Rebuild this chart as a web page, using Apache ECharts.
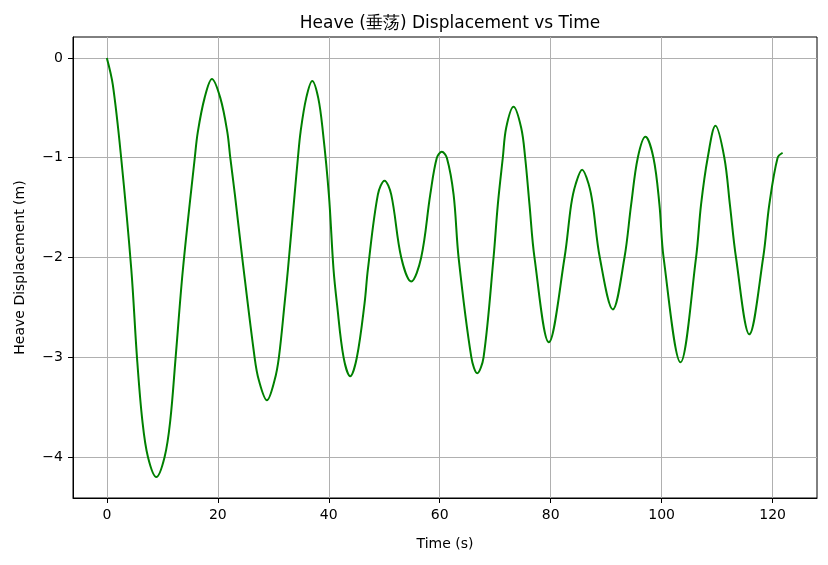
<!DOCTYPE html>
<html>
<head>
<meta charset="utf-8">
<script src="https://cdn.jsdelivr.net/npm/echarts@6/dist/echarts.min.js"></script>
<style>
  html, body { margin: 0; padding: 0; background: #fff; }
  #chart { width: 828px; height: 565px; }
</style>
</head>
<body>
<div id="chart"></div>
<script>
// values (extrema, shoulders and grid-line crossings)
const time = [0, 1.08, 2.58, 4.41, 5.43, 6.39, 7.41, 8.92,
    10.41, 11.44, 12.4, 13.71, 15.85, 16.4, 17.62, 18.94,
    20.45, 21.71, 22.25, 23.08, 24.4, 26.63, 27.4, 28.85,
    30.23, 31.01, 32.04, 32.64, 33.84, 34.44, 34.92, 35.94, 37.02,
    38.1, 38.94, 40.02, 40.86, 41.47, 42.67, 43.87,
    45.07, 46.45, 47.05, 48.85, 50.05,
    51.26, 53.06, 54.86, 56.66, 58.29, 59.48, 60.38,
    61.28, 62.5, 63.4, 65.7, 66.76, 67.9, 69.7, 70.47, 71.37, 71.98, 73.3,
    74.68, 75.4, 76.18, 77.08, 79.66, 82.5, 83.69, 84.47, 85.67,
    86.87, 87.59, 88.85, 91.2, 93.3, 94.5, 95.7, 97.08,
    98.52, 99.6, 100.35, 103.4, 106.2, 107.1, 108.3, 109.7,
    111.3, 112.3, 113.4, 115.8, 118.3, 119.4, 120.9, 121.8]
const heave = [0, -0.27, -1, -2.12, -3, -3.63, -4, -4.2,
    -4, -3.63, -3, -2.12, -1, -0.74, -0.4, -0.21,
    -0.4, -0.74, -1, -1.37, -2, -3, -3.23, -3.43,
    -3.23, -3, -2.46, -2.12, -1.37, -1, -0.74, -0.4, -0.23,
    -0.4, -0.74, -1.37, -2.12, -2.46, -3, -3.19,
    -3, -2.46, -2.12, -1.37, -1.23,
    -1.37, -2, -2.24, -2, -1.37, -1, -0.94,
    -1, -1.37, -2, -3, -3.16, -3, -2, -1.47, -1, -0.7, -0.49,
    -0.7, -1, -1.47, -2, -2.85, -2, -1.47, -1.27, -1.12,
    -1.27, -1.47, -2, -2.52, -2, -1.47, -1, -0.79,
    -1, -1.47, -2, -3.05, -2, -1.47, -1, -0.68,
    -1, -1.47, -2, -2.77, -2, -1.47, -1, -0.95]
const x_ticks = [0, 20, 40, 60, 80, 100, 120]
const y_ticks = [-4, -3, -2, -1, 0]

const font = 'DejaVu Sans'
const points = time.map((t, i) => [t, heave[i]])

function minus(v) {
    return String(v).replace('-', '\u2212')
}

const chart = echarts.init(document.getElementById('chart'))
chart.setOption({
    animation: false,
    title: {
        text: 'Heave (垂荡) Displacement vs Time',
        left: 445,
        top: 10,
        textAlign: 'center',
        textStyle: { fontFamily: font, fontSize: 17, fontWeight: 'normal', color: '#000' }
    },
    grid: {
        left: 73, right: 11, top: 37, bottom: 67,
        show: true, borderColor: '#000', borderWidth: 1, backgroundColor: '#fff'
    },
    xAxis: {
        type: 'value',
        min: -6.1,
        max: 128,
        name: 'Time (s)',
        nameLocation: 'middle',
        nameGap: 39,
        nameTextStyle: { fontFamily: font, fontSize: 14, color: '#000' },
        axisLine: { show: true, onZero: false, lineStyle: { color: '#000' } },
        axisTick: { show: true, inside: false, length: 5, customValues: x_ticks, lineStyle: { color: '#000' } },
        axisLabel: { customValues: x_ticks, fontFamily: font, fontSize: 14, color: '#000', margin: 10, formatter: minus },
        splitLine: { show: true, lineStyle: { color: '#b0b0b0', width: 1 } }
    },
    yAxis: {
        type: 'value',
        min: -4.41,
        max: 0.21,
        name: 'Heave Displacement (m)',
        nameLocation: 'middle',
        nameGap: 46,
        nameTextStyle: { fontFamily: font, fontSize: 14, color: '#000' },
        axisLine: { show: true, onZero: false, lineStyle: { color: '#000' } },
        axisTick: { show: true, inside: false, length: 5, customValues: y_ticks, lineStyle: { color: '#000' } },
        axisLabel: { customValues: y_ticks, fontFamily: font, fontSize: 14, color: '#000', margin: 10, formatter: minus },
        splitLine: { show: true, lineStyle: { color: '#b0b0b0', width: 1 } }
    },
    series: [{
        type: 'line',
        data: points,
        smooth: 0.35,
        showSymbol: false,
        lineStyle: { color: '#008000', width: 2 }
    }]
})
</script>
</body>
</html>
